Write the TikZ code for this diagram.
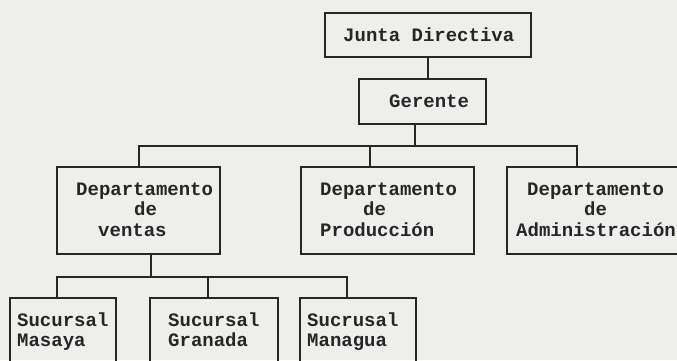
\documentclass[tikz,border=0pt]{standalone}
\usepackage{fontspec}
\setmainfont{Liberation Mono}
\definecolor{paper}{RGB}{238,238,236}
\definecolor{ink}{RGB}{38,38,38}
\begin{document}
\begin{tikzpicture}[x=1bp,y=-1bp,
  box/.style={draw=ink,line width=2bp,inner sep=0pt},
  conn/.style={draw=ink,line width=2bp},
  txt/.style={text=ink,inner sep=0pt,align=left,anchor=base west,
    font=\bfseries\fontsize{19bp}{20.7bp}\selectfont}]
\fill[paper] (0,0) rectangle (677,360);
\useasboundingbox (0,0) rectangle (677,360);
\begin{scope}
\clip (0,0) rectangle (677,360);
% boxes
\node[box,minimum width=206bp,minimum height=44bp] (jd) at (428,35) {};
\node[box,minimum width=127bp,minimum height=45bp] (ge) at (422.5,101.5) {};
\node[box,minimum width=163bp,minimum height=87bp] (ve) at (138.5,210.5) {};
\node[box,minimum width=173bp,minimum height=87bp] (pr) at (387.5,210.5) {};
\node[box,minimum width=172bp,minimum height=87bp] (ad) at (593,210.5) {};
\node[box,minimum width=106bp,minimum height=74bp] (ma) at (63,335) {};
\node[box,minimum width=128bp,minimum height=74bp] (gr) at (214,335) {};
\node[box,minimum width=116bp,minimum height=74bp] (mn) at (358,335) {};
% texts (base anchor = baseline of last line)
\node[txt] (tjd) at (343,41) {Junta Directiva};
\node[txt] (tge) at (389,107) {Gerente};
\node[txt] (tve) at (76,236.4) {Departamento\\\hspace*{58bp}de\\\hspace*{22bp}ventas};
\node[txt] (tpr) at (320,236.4) {Departamento\\\hspace*{43bp}de\\Producción};
\node[txt] (tad) at (516,236.4) {\hspace*{11bp}Departamento\\\hspace*{68bp}de\\Administración};
\node[txt] (tma) at (17,346.7) {Sucursal\\Masaya};
\node[txt] (tgr) at (168,346.7) {Sucursal\\Granada};
\node[txt] (tmn) at (307,346.7) {Sucrusal\\Managua};
% connectors
\coordinate (busA) at (0,146);
\coordinate (busB) at (0,277);
\draw[conn] (jd.south) -- (jd.south |- ge.north);
\draw[conn] ([xshift=-7.5bp]ge.south) -- ([xshift=-7.5bp]ge.south |- busA);
\draw[conn] (ve.north) |- ([xshift=-16bp]ad.north |- busA) -- ([xshift=-16bp]ad.north);
\draw[conn] ([xshift=-17.5bp]pr.north) -- ([xshift=-17.5bp]pr.north |- busA);
\draw[conn] ([xshift=12.5bp]ve.south) -- ([xshift=12.5bp]ve.south |- busB);
\draw[conn] ([xshift=-6bp]ma.north) |- ([xshift=-11bp]mn.north |- busB) -- ([xshift=-11bp]mn.north);
\draw[conn] ([xshift=-6bp]gr.north) -- ([xshift=-6bp]gr.north |- busB);
\end{scope}
\end{tikzpicture}
\end{document}
